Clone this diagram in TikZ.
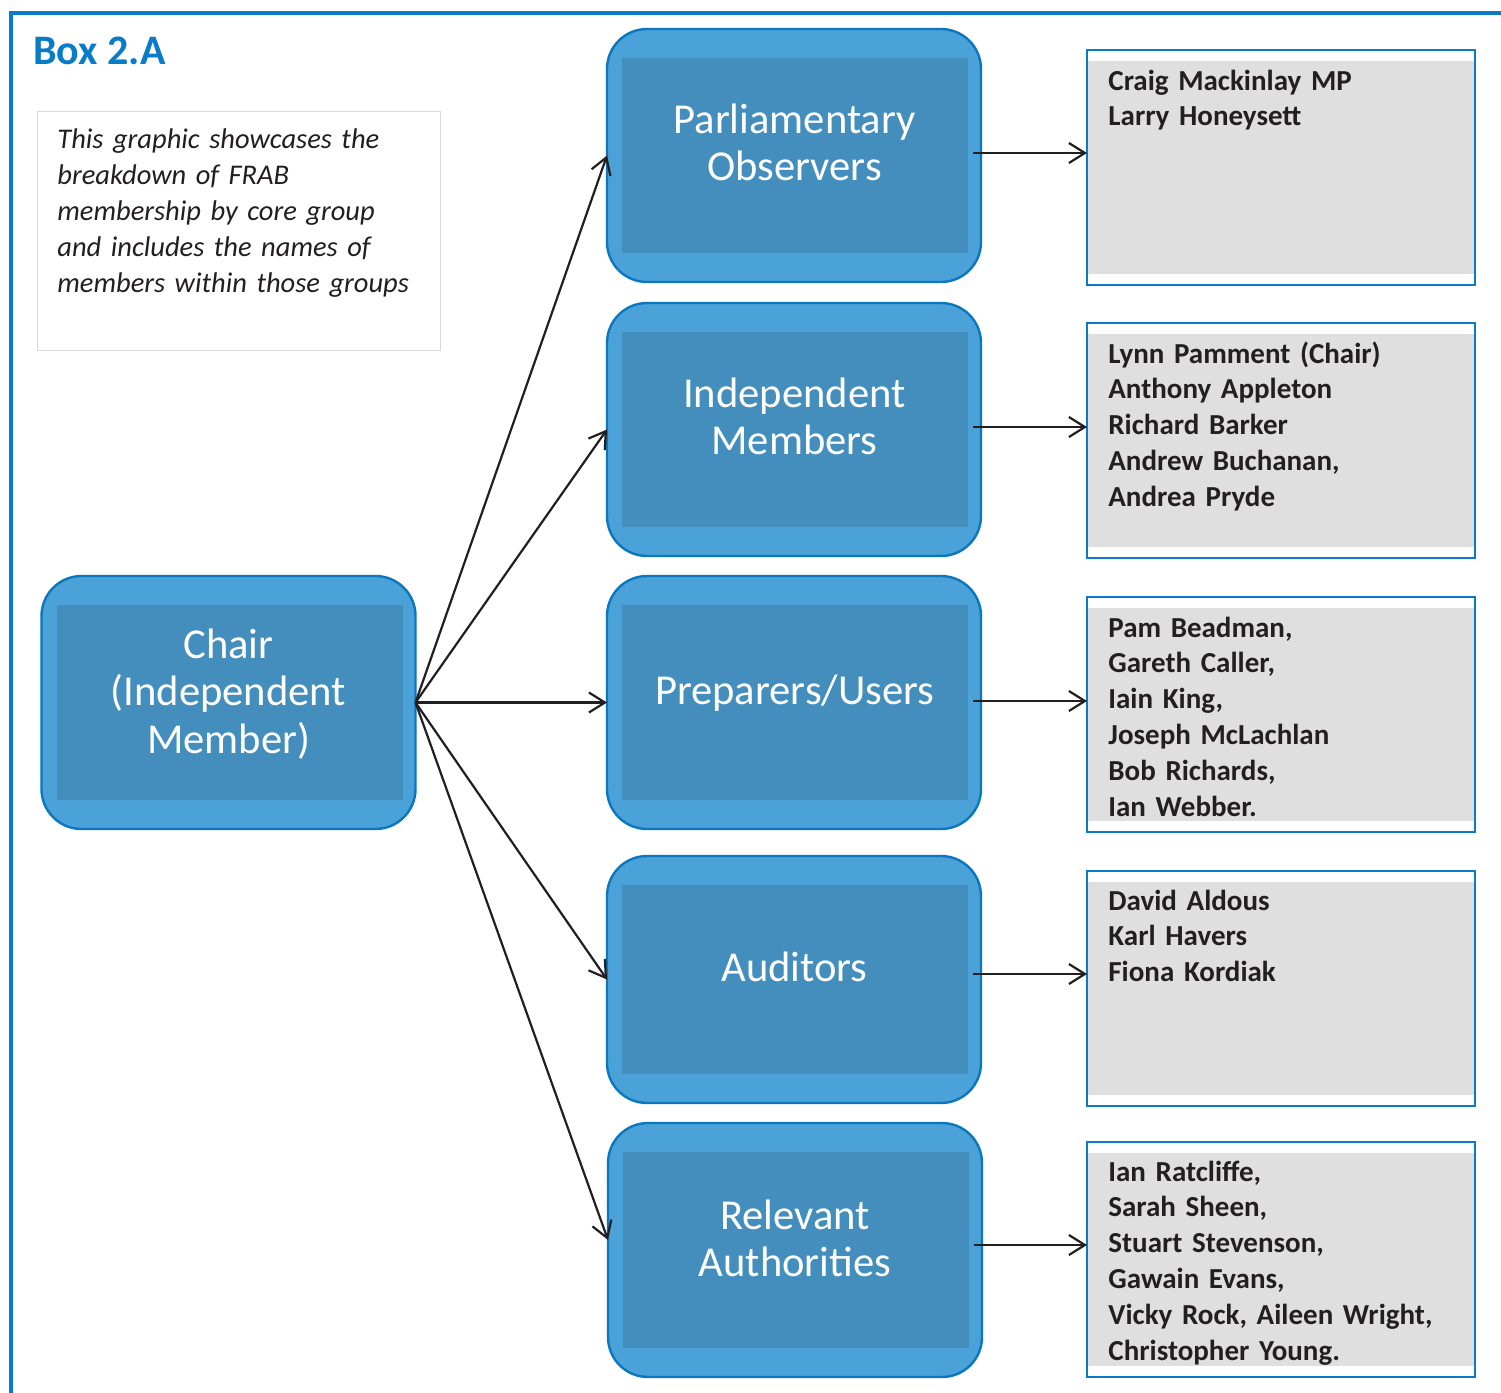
\documentclass[tikz,border=0pt]{standalone}
\usepackage{fontspec}
\setmainfont{Carlito}
\usetikzlibrary{arrows.meta}
\definecolor{frameblue}{HTML}{0A7BC6}
\definecolor{boxfill}{HTML}{4BA2D8}
\definecolor{boxline}{HTML}{0A77BE}
\definecolor{innerfill}{HTML}{448EBD}
\definecolor{namegray}{HTML}{DFDFDF}
\definecolor{descline}{HTML}{DADADA}
\definecolor{ink}{HTML}{231F20}
\begin{document}
\begin{tikzpicture}[x=0.5pt,y=-0.5pt,
  bluebox/.style={draw=boxline, line width=1.2pt, fill=boxfill, rounded corners=20pt,
    minimum width=187pt, minimum height=126.5pt, inner sep=0pt, outer sep=0pt,
    path picture={\fill[innerfill, sharp corners] ([xshift=7.5pt,yshift=-14.5pt]path picture bounding box.north west) rectangle ([xshift=-6.5pt,yshift=14.5pt]path picture bounding box.south east);}},
  lbl/.style={text=white, font=\fontsize{21.3}{23.75}\selectfont, align=center,
    text width=180pt, inner sep=0pt, anchor=base},
  namebox/.style={draw=frameblue, line width=1pt, fill=white, minimum width=194pt,
    minimum height=117.5pt, inner sep=0pt, outer sep=0pt,
    path picture={\fill[namegray, sharp corners] ([yshift=-5.5pt]path picture bounding box.north west) rectangle ([yshift=5.5pt]path picture bounding box.south east);}},
  names/.style={text=ink, font=\bfseries\fontsize{14.5}{17.95}\selectfont, align=left,
    text width=185pt, inner sep=0pt, anchor=base west},
  arr/.style={draw=ink, line width=1.1pt, -{Straight Barb[length=8pt,width=10pt]}}
]
\useasboundingbox (0,0) rectangle (1501,1393);
\fill[white] (0,0) rectangle (1501,1393);
% frame
\draw[frameblue, line width=2pt] (1505,13) -- (11,13) -- (11,1400);
% title
\node[anchor=base west, inner sep=0pt, text=frameblue, font=\bfseries\fontsize{21}{25}\selectfont] (title) at (33,64) {Box 2.A};
% description
\node[draw=descline, line width=0.5pt, minimum width=201.5pt, minimum height=119.5pt, inner sep=0pt, anchor=north west] (descbox) at (36.5,111) {};
\node[anchor=base west, inner sep=0pt, text width=195pt, align=left, font=\itshape\fontsize{14.25}{18}\selectfont, text=ink] (desc) at (57,148.5)
  {This graphic showcases the\\breakdown of FRAB\\membership by core group\\and includes the names of\\members within those groups};
% blue boxes
\node[bluebox] (po) at (794,155.5) {};
\node[bluebox] (im) at (794,429.5) {};
\node[bluebox] (pu) at (794,702.5) {};
\node[bluebox, minimum height=123.5pt] (au) at (794,979.5) {};
\node[bluebox, minimum height=127pt] (ra) at (795,1250) {};
\node[bluebox] (chair) at (228.5,702.5) {};
% labels
\node[lbl] (pol) at (794.5,133) {Parliamentary\\Observers};
\node[lbl] (iml) at (794.5,407) {Independent\\Members};
\node[lbl] (pul) at (794.5,704) {Preparers/Users};
\node[lbl] (aul) at (794.5,981) {Auditors};
\node[lbl] (ral) at (795,1229) {Relevant\\Authorities};
\node[lbl] (chl) at (228.5,658) {Chair\\(Independent\\Member)};
% name boxes
\node[namebox] (g1) at (1281,167) {};
\node[namebox] (g2) at (1281,440.5) {};
\node[namebox] (g3) at (1281,714.5) {};
\node[namebox] (g4) at (1281,988.5) {};
\node[namebox] (g5) at (1281,1259.5) {};
\node[names] (n1) at (1108,90) {Craig Mackinlay MP\\Larry Honeysett};
\node[names] (n2) at (1108,363) {Lynn Pamment (Chair)\\Anthony Appleton\\Richard Barker\\Andrew Buchanan,\\Andrea Pryde};
\node[names] (n3) at (1108,637) {Pam Beadman,\\Gareth Caller,\\Iain King,\\Joseph McLachlan\\Bob Richards,\\Ian Webber.};
\node[names] (n4) at (1108,910) {David Aldous\\Karl Havers\\Fiona Kordiak};
\node[names] (n5) at (1108,1181) {Ian Ratcliffe,\\Sarah Sheen,\\Stuart Stevenson,\\Gawain Evans,\\Vicky Rock, Aileen Wright,\\Christopher Young.};
% arrows from chair
\draw[arr] (chair.east) -- (po.west);
\draw[arr] (chair.east) -- (im.west);
\draw[arr] (chair.east) -- (pu.west);
\draw[arr] (chair.east) -- (au.west);
\draw[arr] (chair.east) -- ([yshift=5pt]ra.west);
% arrows to name boxes
\coordinate (s1) at ([xshift=-4pt,yshift=1.25pt]po.east);
\coordinate (s2) at ([xshift=-4pt,yshift=1.25pt]im.east);
\coordinate (s3) at ([xshift=-4pt,yshift=0.75pt]pu.east);
\coordinate (s4) at ([xshift=-4pt,yshift=2.75pt]au.east);
\coordinate (s5) at ([xshift=-4pt,yshift=2.5pt]ra.east);
\draw[arr] (s1) -- (s1 -| g1.west);
\draw[arr] (s2) -- (s2 -| g2.west);
\draw[arr] (s3) -- (s3 -| g3.west);
\draw[arr] (s4) -- (s4 -| g4.west);
\draw[arr] (s5) -- (s5 -| g5.west);
\end{tikzpicture}
\end{document}
